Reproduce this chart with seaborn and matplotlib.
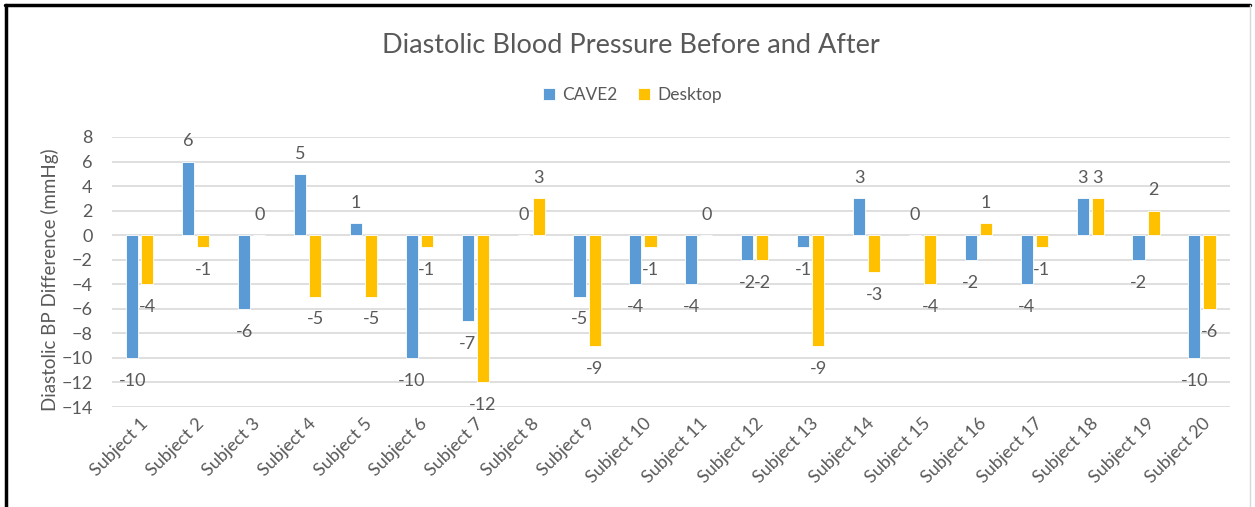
import pandas as pd
import matplotlib.pyplot as plt
import seaborn as sns
from matplotlib.lines import Line2D

# Dữ liệu
subjects = [f'Subject {i}' for i in range(1, 21)]
cave2 = [-10, 6, -6, 5, 1, -10, -7, 0, -5, -4, -4, -2, -1, 3, 0, -2, -4, 3, -2, -10]
desktop = [-4, -1, 0, -5, -5, -1, -12, 3, -9, -1, 0, -2, -9, -3, -4, 1, -1, 3, 2, -6]
groups = ['CAVE2', 'Desktop']
colors = ['#5B9BD5', '#FFC000']

data = pd.DataFrame({
    'Subject': subjects * 2,
    'Group': [groups[0]] * len(subjects) + [groups[1]] * len(subjects),
    'Diff': cave2 + desktop,
})

sns.set_style('white')
plt.rcParams['font.family'] = ['Lato', 'DejaVu Sans']
text_color = '#595959'

fig = plt.figure(figsize=(12.55, 5.07), dpi=100)
ax = fig.add_axes([0.0892, 0.1972, 0.8908, 0.5326])

sns.barplot(data=data, x='Subject', y='Diff', hue='Group', palette=colors,
            saturation=1, width=0.54, gap=0.2, edgecolor='white', linewidth=0.6, ax=ax)

# Nhãn giá trị (trên cột dương, dưới cột âm)
for cont in ax.containers:
    for bar in cont:
        h = bar.get_height()
        off = 14.5 if h >= 0 else -16.5
        ax.annotate(f'{h:.0f}', (bar.get_x() + bar.get_width() / 2, h),
                    xytext=(0, off), textcoords='offset points',
                    ha='center', va='center', fontsize=13, color=text_color)

ax.set_ylim(-14, 8)
ax.set_xlim(-0.5, 19.5)
ax.set_yticks(range(-14, 9, 2))
ax.yaxis.grid(True, color='#D9D9D9', linewidth=1.2)
ax.set_axisbelow(True)
sns.despine(ax=ax, left=True, bottom=True)

ax.tick_params(axis='y', length=0, pad=14, labelsize=13, labelcolor=text_color)
ax.tick_params(axis='x', length=0, pad=6, labelsize=13, labelcolor=text_color)
plt.setp(ax.get_xticklabels(), rotation=45, ha='right', rotation_mode='anchor')

ax.set_xlabel('')
ax.set_ylabel('Diastolic BP Difference (mmHg)', fontsize=13.5, color=text_color)
ax.yaxis.set_label_coords(-0.047, 0.47)

ax.legend(loc='center', bbox_to_anchor=(0.504, 0.813), bbox_transform=fig.transFigure,
          ncol=2, frameon=False, fontsize=12.5, handlelength=0.7, handleheight=0.7,
          handletextpad=0.4, columnspacing=1.2, labelcolor=text_color)

fig.text(0.503, 0.911, 'Diastolic Blood Pressure Before and After',
         ha='center', va='center', fontsize=19.5, color=text_color)

# Khung viền
fig.add_artist(Line2D([0.005, 0.005], [0, 0.99], color='black', linewidth=2.5,
                      transform=fig.transFigure))
fig.add_artist(Line2D([0.004, 0.996], [0.99, 0.99], color='black', linewidth=2.5,
                      transform=fig.transFigure))
fig.add_artist(Line2D([0.996, 0.996], [0, 0.99], color='#D9D9D9', linewidth=1,
                      transform=fig.transFigure))

plt.savefig('out.png', dpi=100)
